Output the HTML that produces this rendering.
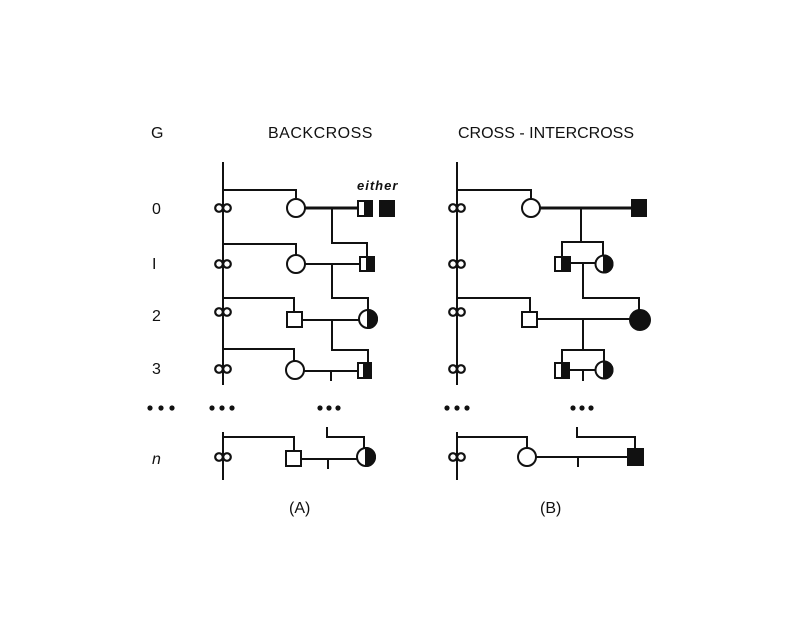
<!DOCTYPE html>
<html><head><meta charset="utf-8"><style>
html,body{margin:0;padding:0;background:#fff;}
svg{display:block}
text{font-family:"Liberation Sans",sans-serif;fill:#111}
</style></head><body>
<svg width="800" height="639" viewBox="0 0 800 639" xmlns="http://www.w3.org/2000/svg">
<defs>
<g id="inf"><circle cx="-4" cy="0" r="3.8" fill="#fff" stroke="#111" stroke-width="2.2"/><circle cx="4" cy="0" r="3.8" fill="#fff" stroke="#111" stroke-width="2.2"/></g>
</defs>
<g font-size="16">
<text x="151" y="138">G</text>
<text x="268" y="138" letter-spacing="0.5">BACKCROSS</text>
<text x="458" y="138">CROSS - INTERCROSS</text>
<text x="152" y="214">0</text>
<text x="152" y="269">I</text>
<text x="152" y="321">2</text>
<text x="152" y="374">3</text>
<text x="152" y="464" font-style="italic">n</text>
<text x="289" y="513">(A)</text>
<text x="540" y="513">(B)</text>
<text x="357" y="190" font-size="13" font-style="italic" font-weight="bold" letter-spacing="1">either</text>
</g>
<g stroke="#111" stroke-width="2" fill="none">
<!-- Panel A -->
<line x1="223" y1="162" x2="223" y2="385"/>
<line x1="223" y1="432" x2="223" y2="480"/>
<polyline points="223,190 296,190 296,199"/>
<line x1="305" y1="208" x2="358" y2="208" stroke-width="3"/>
<polyline points="332,208 332,243 367,243 367,257"/>
<polyline points="223,244 296,244 296,255"/>
<line x1="305" y1="264" x2="360" y2="264"/>
<polyline points="332,264 332,298 368,298 368,309"/>
<polyline points="223,298 294,298 294,312"/>
<line x1="302" y1="320" x2="359" y2="320"/>
<polyline points="332,320 332,350 368,350 368,363"/>
<polyline points="223,349 294,349 294,361"/>
<line x1="304" y1="371" x2="358" y2="371"/>
<line x1="331" y1="371" x2="331" y2="381"/>
<polyline points="327,427 327,437 364,437 364,448"/>
<polyline points="223,437 294,437 294,451"/>
<line x1="301" y1="459" x2="357" y2="459"/>
<line x1="328" y1="459" x2="328" y2="469"/>
<!-- Panel B -->
<line x1="457" y1="162" x2="457" y2="385"/>
<line x1="457" y1="432" x2="457" y2="480"/>
<polyline points="457,190 531,190 531,199"/>
<line x1="540" y1="208" x2="632" y2="208" stroke-width="3"/>
<polyline points="581,208 581,242"/>
<polyline points="562,257 562,242 603,242 603,255"/>
<line x1="570" y1="263" x2="596" y2="263"/>
<polyline points="583,263 583,298 639,298 639,310"/>
<polyline points="457,298 530,298 530,312"/>
<line x1="537" y1="319" x2="630" y2="319"/>
<line x1="583" y1="319" x2="583" y2="350"/>
<polyline points="562,363 562,350 604,350 604,361"/>
<line x1="569" y1="370" x2="596" y2="370"/>
<line x1="583" y1="370" x2="583" y2="381"/>
<polyline points="457,437 527,437 527,448"/>
<line x1="536" y1="457" x2="628" y2="457"/>
<line x1="578" y1="457" x2="578" y2="467"/>
<polyline points="577,427 577,437 635,437 635,449"/>
</g>
<!-- infinity symbols -->
<use href="#inf" x="223" y="208"/><use href="#inf" x="223" y="264"/><use href="#inf" x="223" y="312"/><use href="#inf" x="223" y="369"/><use href="#inf" x="223" y="457"/>
<use href="#inf" x="457" y="208"/><use href="#inf" x="457" y="264"/><use href="#inf" x="457" y="312"/><use href="#inf" x="457" y="369"/><use href="#inf" x="457" y="457"/>
<g stroke="#111" stroke-width="2" fill="#fff">
<!-- A shapes -->
<circle cx="296" cy="208" r="9"/>
<rect x="358" y="201" width="14" height="15"/>
<rect x="365" y="201" width="7" height="15" fill="#111"/>
<rect x="380" y="201" width="14" height="15" fill="#111"/>
<circle cx="296" cy="264" r="9"/>
<rect x="360" y="257" width="14" height="14"/>
<rect x="367" y="257" width="7" height="14" fill="#111"/>
<rect x="287" y="312" width="15" height="15"/>
<circle cx="368" cy="319" r="9"/>
<path d="M368,310 A9,9 0 0 1 368,328 Z" fill="#111"/>
<circle cx="295" cy="370" r="9"/>
<rect x="358" y="363" width="13" height="15"/>
<rect x="364" y="363" width="7" height="15" fill="#111"/>
<rect x="286" y="451" width="15" height="15"/>
<circle cx="366" cy="457" r="9"/>
<path d="M366,448 A9,9 0 0 1 366,466 Z" fill="#111"/>
<!-- B shapes -->
<circle cx="531" cy="208" r="9"/>
<rect x="632" y="200" width="14" height="16" fill="#111"/>
<rect x="555" y="257" width="15" height="14"/>
<rect x="562" y="257" width="8" height="14" fill="#111"/>
<circle cx="604" cy="264" r="8.5"/>
<path d="M604,255.5 A8.5,8.5 0 0 1 604,272.5 Z" fill="#111"/>
<rect x="522" y="312" width="15" height="15"/>
<circle cx="640" cy="320" r="10" fill="#111"/>
<rect x="555" y="363" width="14" height="15"/>
<rect x="562" y="363" width="7" height="15" fill="#111"/>
<circle cx="604" cy="370" r="8.5"/>
<path d="M604,361.5 A8.5,8.5 0 0 1 604,378.5 Z" fill="#111"/>
<circle cx="527" cy="457" r="9"/>
<rect x="628" y="449" width="15" height="16" fill="#111"/>
</g>
<!-- dots -->
<g fill="#111">
<circle cx="150" cy="408" r="2.6"/><circle cx="161" cy="408" r="2.6"/><circle cx="172" cy="408" r="2.6"/>
<circle cx="212" cy="408" r="2.6"/><circle cx="222" cy="408" r="2.6"/><circle cx="232" cy="408" r="2.6"/>
<circle cx="320" cy="408" r="2.6"/><circle cx="329" cy="408" r="2.6"/><circle cx="338" cy="408" r="2.6"/>
<circle cx="447" cy="408" r="2.6"/><circle cx="457" cy="408" r="2.6"/><circle cx="467" cy="408" r="2.6"/>
<circle cx="573" cy="408" r="2.6"/><circle cx="582" cy="408" r="2.6"/><circle cx="591" cy="408" r="2.6"/>
</g>
</svg>
</body></html>
